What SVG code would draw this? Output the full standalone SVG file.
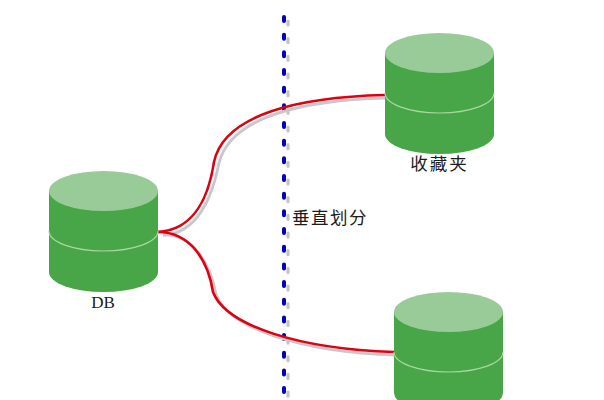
<svg xmlns="http://www.w3.org/2000/svg" width="604" height="400" viewBox="0 0 604 400">
<style>
.side{fill:#48a548}
.top{fill:#99cb99}
.mid{fill:none;stroke:#a8d8a0;stroke-width:1.2}
.red{fill:none;stroke:#e0000f;stroke-width:2.6}
.gray{fill:none;stroke:#c8c8cc;stroke-width:2.8}
.blue{stroke:#0000c0;stroke-width:4;stroke-dasharray:4 13.67;stroke-linecap:round;fill:none}
.grayd{stroke:#c4c4c4;stroke-width:3.2;stroke-dasharray:4 13.67;stroke-linecap:round;fill:none}
text{font-family:"Noto Sans CJK SC","Liberation Serif",serif;font-size:17.5px;fill:#1c1c1c}
</style>
<defs>
<g id="cyl">
<path class="side" d="M0 20V101A54.5 20 0 0 0 109 101V20Z"/>
<ellipse class="top" cx="54.5" cy="20" rx="54.5" ry="20"/>
<path class="mid" d="M0 60A54.5 20 0 0 0 109 60"/>
</g>
</defs>
<g id="divider">
<line class="grayd" x1="288" y1="21" x2="288" y2="398"/>
<line class="blue" x1="284" y1="17" x2="284" y2="394"/>
</g>
<g id="connectors">
<path class="gray" d="M163 235C198 234 213 195 219 163C230 118 300 100 386 98"/>
<path class="gray" d="M163 235C192 234 210 262 216 294C228 328 300 352 396 355"/>
<path class="red" d="M158 232C195 230 209 195 214 162C224 114 300 97 385 95"/>
<path class="red" d="M158 232C190 232 208 260 213 292C226 326 300 349 394 352"/>
</g>
<g id="node-db">
<use href="#cyl" x="49" y="171"/>
<text x="103" y="308" text-anchor="middle" style="font-family:'Liberation Serif',serif;font-size:17px">DB</text>
</g>
<g id="node-fav">
<use href="#cyl" x="385" y="33"/>
<text x="439.5" y="170" text-anchor="middle" letter-spacing="2">收藏夹</text>
</g>
<g id="node-other">
<use href="#cyl" x="394" y="292"/>
</g>
<g id="label-divider">
<text x="292" y="224" letter-spacing="1.5">垂直划分</text>
</g>
</svg>
